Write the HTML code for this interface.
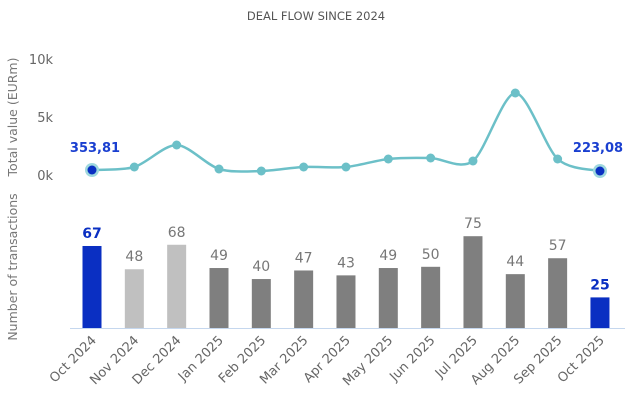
<!DOCTYPE html>
<html><head><meta charset="utf-8"><style>
body{margin:0;background:#fff;}
svg text{font-family:"DejaVu Sans","Liberation Sans",sans-serif;}
</style></head><body>
<svg id="s" width="633" height="410" xmlns="http://www.w3.org/2000/svg">
<text x="316" y="20" text-anchor="middle" font-size="11.5" fill="#555">DEAL FLOW SINCE 2024</text>
<text x="53" y="64" text-anchor="end" font-size="13" fill="#666">10k</text>
<text x="53" y="122" text-anchor="end" font-size="13" fill="#666">5k</text>
<text x="53" y="180" text-anchor="end" font-size="13" fill="#666">0k</text>
<text transform="translate(17,117) rotate(-90)" text-anchor="middle" font-size="12.5" fill="#777">Total value (EURm)</text>
<text transform="translate(17,267) rotate(-90)" text-anchor="middle" font-size="12.5" fill="#777">Number of transactions</text>
<line x1="70" y1="328.5" x2="625" y2="328.5" stroke="#c5d7ee" stroke-width="1"/>
<g id="g"></g>
</svg>
<script>
var labels=["Oct 2024","Nov 2024","Dec 2024","Jan 2025","Feb 2025","Mar 2025","Apr 2025","May 2025","Jun 2025","Jul 2025","Aug 2025","Sep 2025","Oct 2025"];
var n=[67,48,68,49,40,47,43,49,50,75,44,57,25];
var ly=[170,167,145,169,171,167,167,159,158,161,93,159,171];
var col=["#0a2fc2","#c0c0c0","#c0c0c0","#7f7f7f","#7f7f7f","#7f7f7f","#7f7f7f","#7f7f7f","#7f7f7f","#7f7f7f","#7f7f7f","#7f7f7f","#0a2fc2"];
var h="",xs=[];
for(var i=0;i<13;i++){var x=92+i*42.33;xs.push(x);
var t=328-n[i]*1.224;
h+='<rect x="'+(x-9.5)+'" y="'+t+'" width="19" height="'+(328-t)+'" fill="'+col[i]+'"/>';
var b=(i==0||i==12);
h+='<text x="'+x+'" y="'+(t-8)+'" text-anchor="middle" font-size="14" '+(b?'font-weight="bold" fill="#0a2fc2"':'fill="#777"')+'>'+n[i]+'</text>';
h+='<text transform="translate('+(x+5)+',341) rotate(-45)" text-anchor="end" font-size="13" fill="#666">'+labels[i]+'</text>';}
var d="M"+xs[0]+","+ly[0];
for(var i=0;i<12;i++){var p0=i>0?i-1:i,p3=i<11?i+2:i+1;
var k=7;
var c1x=xs[i]+(xs[i+1]-xs[p0])/k,c1y=ly[i]+(ly[i+1]-ly[p0])/k;
var c2x=xs[i+1]-(xs[p3]-xs[i])/k,c2y=ly[i+1]-(ly[p3]-ly[i])/k;
d+=" C"+c1x+","+c1y+" "+c2x+","+c2y+" "+xs[i+1]+","+ly[i+1];}
h+='<path d="'+d+'" fill="none" stroke="#6cc0c8" stroke-width="2.5"/>';
for(var i=0;i<13;i++){ if(i==0||i==12){h+='<circle cx="'+xs[i]+'" cy="'+ly[i]+'" r="7" fill="#9fd8de"/><circle cx="'+xs[i]+'" cy="'+ly[i]+'" r="4.5" fill="#0a2fc2"/>';}
else h+='<circle cx="'+xs[i]+'" cy="'+ly[i]+'" r="4.5" fill="#6cc0c8"/>';}
h+='<text x="95" y="152" text-anchor="middle" font-size="13" font-weight="bold" fill="#1a3fd0">353,81</text>';
h+='<text x="598" y="152" text-anchor="middle" font-size="13" font-weight="bold" fill="#1a3fd0">223,08</text>';
document.getElementById("g").innerHTML=h;
</script>
</body></html>
